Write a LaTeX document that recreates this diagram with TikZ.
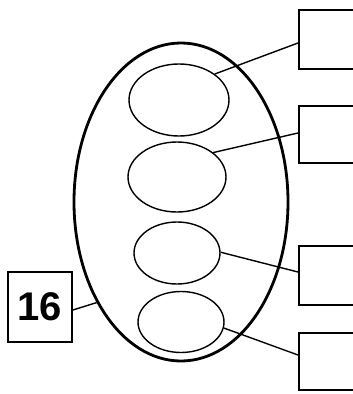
\documentclass[tikz,border=0pt]{standalone}
\usepackage{fontspec}
\setmainfont{Liberation Sans}
\usetikzlibrary{shapes.geometric}
\begin{document}
\begin{tikzpicture}[x=1pt,y=-1pt,
  inner/.style={draw, ellipse, line width=1.4pt, inner sep=0pt},
  slot/.style={draw, rectangle, line width=1.8pt, minimum width=80pt, anchor=north west, inner sep=0pt},
  link/.style={line width=1.4pt}]
\useasboundingbox (0,0) rectangle (353,394);
\clip (0,0) rectangle (353,394);
\node[draw, ellipse, line width=2.8pt, minimum width=214pt, minimum height=318pt, inner sep=0pt] (big) at (181,202) {};
\node[inner, minimum width=100pt, minimum height=72pt] (e1) at (179,100) {};
\node[inner, minimum width=98pt, minimum height=70pt] (e2) at (177,177) {};
\node[inner, minimum width=86pt, minimum height=62pt] (e3) at (177,253) {};
\node[inner, minimum width=86pt, minimum height=61pt] (e4) at (181,322) {};
\node[slot, minimum height=59pt] (b1) at (298,9) {};
\node[slot, minimum height=57pt] (b2) at (298,105) {};
\node[slot, minimum height=59pt] (b3) at (298,245) {};
\node[slot, minimum height=57pt] (b4) at (298,332) {};
\node[draw, line width=1.8pt, minimum width=64pt, minimum height=70pt, inner sep=0pt, font=\bfseries\fontsize{40}{40}\selectfont] (n16) at (40,307) {16};
\coordinate (p1) at ([yshift=-34pt]b1.north west);
\coordinate (p2) at ([yshift=-28pt]b2.north west);
\coordinate (p3) at ([yshift=-27pt]b3.north west);
\coordinate (p4) at ([yshift=-23pt]b4.north west);
\draw[link] (e1.36) -- (p1);
\draw[link] (e2.34) -- (p2);
\draw[link] (e3.1) -- (p3);
\draw[link] (e4.-8) -- (p4);
\draw[link] ([yshift=-3pt]n16.east) -- (big.230);
\end{tikzpicture}
\end{document}
